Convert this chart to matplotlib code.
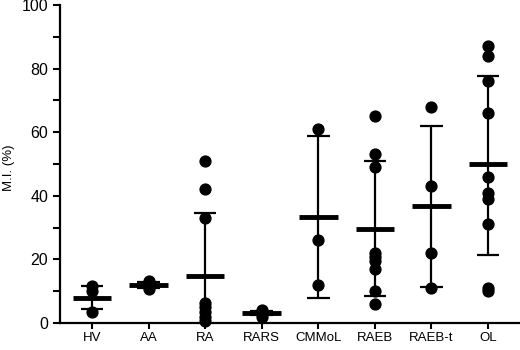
import matplotlib
matplotlib.use("Agg")
import matplotlib.pyplot as plt
from matplotlib.ticker import MultipleLocator

plt.rcParams['font.family'] = ['Liberation Sans', 'DejaVu Sans']

# ── data ─────────────────────────────────────────────────────────────────────
groups = ["HV", "AA", "RA", "RARS", "CMMoL", "RAEB", "RAEB-t", "OL"]
points = [
    [11.5, 10.0, 3.5],
    [13.2, 12.5, 11.5, 10.8],
    [51, 42, 33, 6.3, 5.1, 3.6, 2.0, 0.5],
    [4.0, 3.3, 2.7, 2.0],
    [61, 26, 12],
    [65, 53, 49, 22, 20.8, 19.5, 17, 10, 6],
    [68, 43, 22, 11],
    [87, 84, 76, 66, 46, 41, 39, 31, 11, 10],
]
means = [8.0, 12.0, 14.8, 3.2, 33.4, 29.6, 36.8, 50.0]
upper = [11.7, 13.0, 34.6, 3.8, 58.9, 51.0, 62.0, 77.7]
lower = [4.5, 11.0, 0.0, 2.6, 8.0, 8.5, 11.4, 21.4]

fig = plt.figure(figsize=(5.2, 3.5), dpi=100)
ax = fig.add_axes([0.1154, 0.077, 0.883, 0.909])

for i, (pts, m, hi, lo) in enumerate(zip(points, means, upper, lower)):
    ax.plot([i] * len(pts), pts, "o", color="black", ms=7.8, zorder=3,
            clip_on=False)
    ax.vlines(i, lo, hi, color="black", lw=1.6, zorder=2)
    ax.hlines([hi, lo] if lo > 0 else [hi], i - 0.2, i + 0.2,
              color="black", lw=1.6, zorder=2)
    ax.hlines(m, i - 0.34, i + 0.34, color="black", lw=3.5, zorder=4)

ax.set_xlim(-0.565, 7.55)
ax.set_ylim(0, 100)
ax.set_xticks(range(len(groups)))
ax.set_xticklabels(groups, fontsize=9.5)
ax.yaxis.set_major_locator(MultipleLocator(20))
ax.yaxis.set_minor_locator(MultipleLocator(10))
ax.tick_params(axis="y", labelsize=11.5, width=1.5, length=5, direction="out")
ax.tick_params(axis="y", which="minor", width=1.5, length=5)
ax.tick_params(axis="x", width=1.5, length=4, direction="out", pad=2.5)
fig.text(9 / 520, 0.52, "M.I. (%)", rotation=90, ha="center", va="center",
         fontsize=9.5)

for side in ("top", "right"):
    ax.spines[side].set_visible(False)
for side in ("left", "bottom"):
    ax.spines[side].set_linewidth(1.6)

fig.savefig("out.png", dpi=100, facecolor="white")
